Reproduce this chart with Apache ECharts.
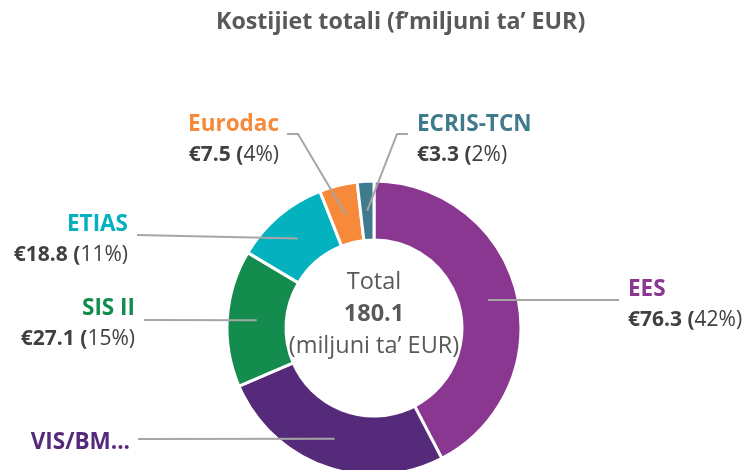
<!DOCTYPE html>
<html>
<head>
<meta charset="utf-8">
<script src="https://cdn.jsdelivr.net/npm/echarts@6/dist/echarts.min.js"></script>
<style>
  html, body { margin: 0; padding: 0; background: #fff; }
  #chart { width: 746px; height: 470px; }
</style>
</head>
<body>
<div id="chart"></div>
<script>
// data
const names = ['EES', 'VIS/BM...', 'SIS II', 'ETIAS', 'Eurodac', 'ECRIS-TCN'];
const values = [76.3, 47.1, 27.1, 18.8, 7.5, 3.3];
const percents = [42, 26, 15, 11, 4, 2];
const colors = ['#8A3791', '#552A7A', '#138C4E', '#03B1BF', '#F68A3A', '#3F7B8D'];
// the VIS/BM label is cut short in the original, only its name shows
const showValue = [true, false, true, true, true, true];

// label placement (text block + end of the leader line)
const labelText = [
  { x: 628, y: 305, align: 'left' },
  { x: 130, y: 443, align: 'right' },
  { x: 135, y: 324, align: 'right' },
  { x: 128, y: 240, align: 'right' },
  { x: 279, y: 140, align: 'right' },
  { x: 417, y: 140, align: 'left' }
];
const lineEnd = [
  { x: 619, y: 300, elbow: 0 },
  { x: 138, y: 439, elbow: 0 },
  { x: 144, y: 320, elbow: 0 },
  { x: 137, y: 235, elbow: 0 },
  { x: 287, y: 134, elbow: 11 },
  { x: 408, y: 134, elbow: -11 }
];

const cx = 374, cy = 328, rIn = 88, rOut = 147;
const total = values.reduce((a, b) => a + b, 0);
const font = '"Open Sans", sans-serif';

const midAngle = (i) => {
  let before = 0;
  for (let k = 0; k < i; k++) before += values[k];
  return (before + values[i] / 2) / total * Math.PI * 2;
};

const chart = echarts.init(document.getElementById('chart'));

const pieBase = {
  type: 'pie',
  center: [cx, cy],
  radius: [rIn, rOut],
  startAngle: 90,
  clockwise: true,
  avoidLabelOverlap: false
};

const option = {
  animation: false,
  title: {
    text: 'Kostijiet totali (f\u2019miljuni ta\u2019 EUR)',
    left: 211,
    top: 6,
    textStyle: { fontFamily: font, fontSize: 23.2, fontWeight: 'bold', color: '#595959' }
  },
  graphic: [{
    type: 'text',
    z: 100,
    x: cx,
    y: cy - 14,
    style: {
      text: '{t|Total}\n{b|' + total.toFixed(1) + '}\n{t|(miljuni ta\u2019 EUR)}',
      align: 'center',
      verticalAlign: 'middle',
      fill: '#595959',
      rich: {
        t: { fontFamily: font, fontSize: 23.5, lineHeight: 32, fill: '#595959' },
        b: { fontFamily: font, fontSize: 23.5, lineHeight: 32, fontWeight: 'bold', fill: '#595959' }
      }
    }
  }],
  series: [
    // the ring itself
    Object.assign({}, pieBase, {
      label: { show: false },
      labelLine: { show: false },
      itemStyle: { borderColor: '#fff', borderWidth: 3 },
      data: names.map((n, i) => ({
        name: n,
        value: values[i],
        itemStyle: { color: colors[i] }
      }))
    }),
    // transparent copy on top, carrying labels and leader lines
    Object.assign({}, pieBase, {
      z: 5,
      silent: true,
      itemStyle: { color: 'rgba(0,0,0,0)', borderWidth: 0 },
      label: {
        show: true,
        position: 'outside',
        fontFamily: font,
        formatter: (p) => {
          const i = p.dataIndex;
          let s = '{n' + i + '|' + names[i] + '}';
          if (showValue[i]) {
            s += '\n{v|\u20ac' + values[i].toFixed(1) + ' (}{p|' + percents[i] + '%)}';
          }
          return s;
        },
        rich: Object.assign({
          v: { fontFamily: font, fontSize: 21, fontWeight: 'bold', color: '#404040', lineHeight: 31 },
          p: { fontFamily: font, fontSize: 21, color: '#404040', lineHeight: 31 }
        }, ...colors.map((c, i) => ({
          ['n' + i]: { fontFamily: font, fontSize: 22.5, fontWeight: 'bold', color: c, lineHeight: 31 }
        })))
      },
      labelLine: {
        show: true,
        lineStyle: { color: '#A6A6A6', width: 2 }
      },
      labelLayout: (params) => {
        const i = params.dataIndex;
        const a = midAngle(i);
        const rMid = (rIn + rOut) / 2;
        const start = [cx + rMid * Math.sin(a), cy - rMid * Math.cos(a)];
        const end = lineEnd[i];
        const pts = [start];
        if (end.elbow) pts.push([end.x + end.elbow, end.y]);
        pts.push([end.x, end.y]);
        return {
          x: labelText[i].x,
          y: labelText[i].y,
          align: labelText[i].align,
          verticalAlign: 'middle',
          labelLinePoints: pts
        };
      },
      data: names.map((n, i) => ({ name: n, value: values[i] }))
    })
  ]
};

chart.setOption(option);
</script>
</body>
</html>
